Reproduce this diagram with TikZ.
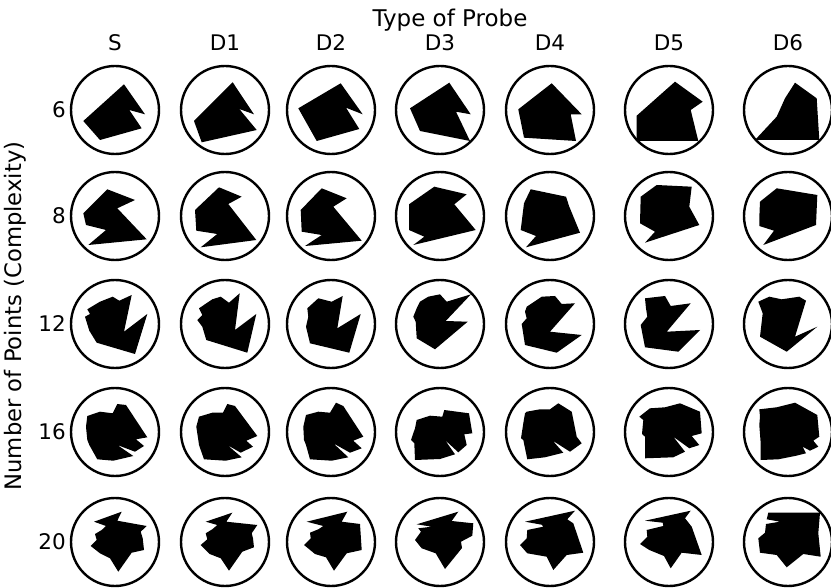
\documentclass[tikz,border=0pt]{standalone}
\usepackage{fontspec}
\setmainfont{DejaVu Sans}
\usepackage{tikz}
\usetikzlibrary{positioning}

\begin{document}
\begin{tikzpicture}[
  x=1pt,y=-1pt,
  probe/.style={circle,draw=black,line width=2.4pt,minimum size=88pt,inner sep=0pt},
  blob/.style={fill=black},
  hdr/.style={font=\fontsize{21.5}{25}\selectfont,inner sep=0pt},
  rowlab/.style={font=\fontsize{21.5}{25}\selectfont,inner sep=0pt,anchor=east}
]
  \useasboundingbox (0,0) rectangle (831,588);
  \node[hdr,font=\fontsize{23}{27}\selectfont] (title) at (450,20) {Type of Probe};
  \node[hdr,font=\fontsize{22.7}{27}\selectfont,rotate=90] (ylab) at (15,316) {Number of Points (Complexity)};
  % columns and rows of probe circles
  \foreach \col/\cx in {S/115,D1/225,D2/331,D3/440,D4/550,D5/669,D6/788}{
    \node[hdr] (h-\col) at (\cx,43) {\col};
    \foreach \row/\cy in {6/110,8/216,12/324,16/432,20/542}{
      \node[probe] (c-\col-\row) at (\cx,\cy) {};
    }
  }
  \foreach \row/\cy in {6/110,8/216,12/324,16/432,20/542}{
    \node[rowlab] (r-\row) at (66,\cy) {\row};
  }

  % 6 points
  \fill[blob,shift={(c-S-6)}] (9,-25.7) -- (30,4.3) -- (14.3,0) -- (26.7,18.3) -- (-15,30) -- (-31.7,11) -- cycle;
  \fill[blob,shift={(c-D1-6)}] (7.7,-27.7) -- (29,4.3) -- (14.3,-1) -- (31.7,20) -- (-23.3,32.3) -- (-31,11) -- cycle;
  \fill[blob,shift={(c-D2-6)}] (9.7,-26.7) -- (31.7,4.3) -- (15,-2.3) -- (28.3,19) -- (-14.3,31) -- (-32.7,-1.7) -- cycle;
  \fill[blob,shift={(c-D3-6)}] (9.3,-27.3) -- (30.7,4.3) -- (16,1.7) -- (30,31) -- (-20,21) -- (-30,-1.7) -- cycle;
  \fill[blob,shift={(c-D4-6)}] (1.7,-26.7) -- (31.7,4.3) -- (20.7,4.3) -- (26,31) -- (-26,27.7) -- (-31.7,-0.7) -- cycle;
  \fill[blob,shift={(c-D5-6)}] (6,-28.3) -- (33.7,-8.3) -- (21.7,0) -- (29.3,31) -- (-32.3,31) -- (-32.3,5.7) -- cycle;
  \fill[blob,shift={(c-D6-6)}] (7,-27.3) -- (28.7,-11.7) -- (31.3,30) -- (-33,30) -- (-11.3,6.7) -- (-3,-11.7) -- cycle;

  % 8 points
  \fill[blob,shift={(c-S-8)}] (-7.7,-26.7) -- (20,-16) -- (2.3,-7.7) -- (31.7,23.3) -- (-26.7,29) -- (-9,14) -- (-29,9) -- (-31.7,-2.7) -- cycle;
  \fill[blob,shift={(c-D1-8)}] (-6,-28.7) -- (16.7,-19.3) -- (3.3,-12) -- (31.3,24) -- (-24.3,31.3) -- (-7.7,18) -- (-28.7,14.7) -- (-30,-6) -- cycle;
  \fill[blob,shift={(c-D2-8)}] (-9.3,-27.7) -- (15.7,-17.7) -- (2.3,-9.3) -- (30.7,24.7) -- (-26,30) -- (-9.3,19) -- (-29.3,15.7) -- (-30.3,-6) -- cycle;
  \fill[blob,shift={(c-D3-8)}] (-5.7,-29.3) -- (26.7,-21.7) -- (14.3,-11.7) -- (35.7,14) -- (-26.7,29) -- (-15.7,20.7) -- (-31,14) -- (-31,-11.7) -- cycle;
  \fill[blob,shift={(c-D4-8)}] (-19.3,-26.7) -- (16,-19.3) -- (19.3,-9.3) -- (30,16.7) -- (-24,31.3) -- (-14,20) -- (-29.3,14) -- (-26,-12.7) -- cycle;
  \fill[blob,shift={(c-D5-8)}] (-12.3,-31) -- (22.7,-29.3) -- (20.3,-9.3) -- (30.3,9) -- (-24,26.7) -- (-14,15.7) -- (-29,7.3) -- (-28.3,-19.3) -- cycle;
  \fill[blob,shift={(c-D6-8)}] (-11.3,-27.7) -- (29.3,-21) -- (28,9) -- (-24.7,29) -- (-14,14.7) -- (-28.7,10) -- (-28.5,-3) -- (-28,-14.3) -- cycle;

  % 12 points
  \fill[blob,shift={(c-S-12)}] (-27.7,-14.7) -- (-15,-22.3) -- (-2.3,-27.3) -- (4.3,-23.3) -- (16.7,-29) -- (9,7.7) -- (32.3,-10) -- (20,30) -- (-18.3,18.7) -- (-25.7,6.7) -- (-30,-7.3) -- (-25,-10) -- cycle;
  \fill[blob,shift={(c-D1-12)}] (-26,-15.7) -- (-12.7,-24.7) -- (-4.3,-27.3) -- (4,-21.3) -- (14.7,-30.7) -- (10,6) -- (31.3,-10) -- (22.3,28.7) -- (-18.7,16) -- (-22.7,2.7) -- (-27.7,-4) -- (-22.7,-9) -- cycle;
  \fill[blob,shift={(c-D2-12)}] (-23.7,-15.7) -- (-12.7,-25.7) -- (0.7,-22.3) -- (11.7,-28) -- (6.3,4.3) -- (29.7,-10) -- (18.3,28.7) -- (-21,19.3) -- (-25,2.7) -- (-22.7,-7.3) -- cycle;
  \fill[blob,shift={(c-D3-12)}] (-20,-22.3) -- (-11.7,-27.3) -- (0,-29.7) -- (6.7,-22.3) -- (31,-29.7) -- (5.7,-3) -- (27.7,-2.3) -- (-5,25.3) -- (-23.3,14.3) -- (-24.3,-2.3) -- (-26.7,-7.3) -- (-23.3,-15.7) -- cycle;
  \fill[blob,shift={(c-D4-12)}] (-23.3,-17.3) -- (-8.3,-27.3) -- (5,-28) -- (11.7,-20) -- (25,-20.7) -- (0,7.7) -- (31.7,11) -- (6.7,28.7) -- (-25,21) -- (-28.3,0) -- (-23.3,-5.7) -- (-25,-12.3) -- cycle;
  \fill[blob,shift={(c-D5-12)}] (-24,-25.7) -- (-4,-28) -- (1.7,-18) -- (21.7,-20.7) -- (-2.3,7.7) -- (31,6) -- (9.3,27.7) -- (-24,23.3) -- (-28.3,1) -- (-21.7,-7.3) -- (-23,-15.7) -- cycle;
  \fill[blob,shift={(c-D6-12)}] (-29.7,-22.3) -- (-18.7,-27.3) -- (-6.3,-24.7) -- (11.3,-27.3) -- (18,-23.3) -- (7,12.7) -- (29.3,2.7) -- (-1.3,27.7) -- (-28,12.7) -- (-25.3,-10.7) -- cycle;

  % 16 points
  \fill[blob,shift={(c-S-16)}] (-27.7,-16) -- (-15,-20.3) -- (-2.3,-18.7) -- (2.3,-28) -- (11,-27) -- (32.3,5.3) -- (21,7.3) -- (29,14) -- (20,19.7) -- (2.3,13) -- (18.3,24) -- (-1.7,28.7) -- (-17.7,27.3) -- (-25.7,13) -- (-27.7,8) -- (-29,-5.3) -- cycle;
  \fill[blob,shift={(c-D1-16)}] (-26,-15.3) -- (-12.7,-19.3) -- (-2,-19.3) -- (2.3,-28) -- (10,-26) -- (32.3,4) -- (21.3,8.7) -- (28,14.7) -- (15.7,20.7) -- (2.3,13) -- (16.7,25.3) -- (0.7,28.7) -- (-21,27.3) -- (-26,13) -- (-26.7,8) -- (-28.7,-5.3) -- cycle;
  \fill[blob,shift={(c-D2-16)}] (-25,-17) -- (-12.7,-20.3) -- (-1,-19.3) -- (5,-29.3) -- (12.3,-26) -- (32.3,4.7) -- (22.3,8.7) -- (30.7,16.3) -- (19,20.7) -- (2.3,11.3) -- (17.3,25.3) -- (0.7,28.7) -- (-21,27.3) -- (-25,13) -- (-27,8) -- (-27.7,-5.3) -- cycle;
  \fill[blob,shift={(c-D3-16)}] (-23.3,-12) -- (-10,-16.3) -- (2.3,-15.3) -- (4.3,-22) -- (29,-18.7) -- (32.3,1.3) -- (24.3,2.3) -- (26.7,13) -- (18.3,20.3) -- (5,8) -- (15,22.3) -- (0,27) -- (-25,28) -- (-25.7,11.3) -- (-29,8) -- (-25,-3.7) -- cycle;
  \fill[blob,shift={(c-D4-16)}] (-23.3,-20.3) -- (-10,-22.7) -- (0,-22.7) -- (8.3,-28.7) -- (21.7,-20.3) -- (26.7,4.7) -- (31.7,11.3) -- (20,19.7) -- (2.7,8.7) -- (13.3,20.7) -- (-5,25.3) -- (-22.7,27.3) -- (-26.7,8) -- (-29,6.3) -- (-26.7,-8.7) -- (-25,-18.7) -- cycle;
  \fill[blob,shift={(c-D5-16)}] (-29.7,-15.3) -- (-19,-23.7) -- (-4,-24.7) -- (11,-28.7) -- (31,-20.3) -- (32.7,1.3) -- (22.7,4) -- (30.3,13) -- (20.3,16.3) -- (4.3,4.7) -- (16,19.7) -- (4.3,25.3) -- (-24,26.3) -- (-24,4.7) -- (-27,2) -- (-25.7,-12) -- cycle;
  \fill[blob,shift={(c-D6-16)}] (-28.7,-22.7) -- (-11.3,-24.7) -- (7,-29.3) -- (29.3,-17) -- (31.3,4.7) -- (25.3,8.7) -- (30.3,14.7) -- (22,18.7) -- (14.7,14.7) -- (18,21.3) -- (7,24) -- (-9.7,27.3) -- (-27.3,28) -- (-27.3,11.3) -- (-28.7,-7) -- (-28,-15.3) -- cycle;

  % 20 points
  \fill[blob,shift={(c-S-20)}] (-21,-20.3) -- (6.7,-30.3) -- (2.3,-21.3) -- (31.7,-16) -- (25.7,-10.3) -- (27.7,-3.7) -- (29,8) -- (16.7,10.7) -- (3.3,29.7) -- (-5,16.3) -- (-15,11.3) -- (-24.3,4) -- (-18.3,-2) -- (-20,-8) -- (-13.3,-12) -- (-9,-16) -- cycle;
  \fill[blob,shift={(c-D1-20)}] (-19.3,-20.3) -- (7.3,-29.3) -- (1.3,-20.3) -- (32.3,-17) -- (26.7,-8.7) -- (28,-3.7) -- (29,5.3) -- (17.3,9.7) -- (4,28.7) -- (-4.3,16.3) -- (-15.3,12) -- (-24.3,3) -- (-17.7,-2.7) -- (-19.3,-8.7) -- (-12.7,-12.7) -- (-7.7,-17) -- cycle;
  \fill[blob,shift={(c-D2-20)}] (-24.3,-20.3) -- (16.3,-30.3) -- (10.7,-20.3) -- (29,-18) -- (30.7,8) -- (15.7,11.3) -- (3,28.7) -- (-5,15.3) -- (-16,12) -- (-27,3) -- (-20.3,-3.7) -- (-21,-9.3) -- (-12.7,-12.7) -- (-7.7,-16) -- cycle;
  \fill[blob,shift={(c-D3-20)}] (-23.3,-17.7) -- (18.3,-30.3) -- (11.7,-21) -- (33.3,-18.7) -- (32.3,-6.3) -- (21,-0.3) -- (22,6) -- (5,27) -- (-4.3,11.3) -- (-18.3,6.3) -- (-25,-2) -- (-19,-10.3) -- (-21.7,-13.7) -- (-8.3,-15.3) -- cycle;
  \fill[blob,shift={(c-D4-20)}] (-25,-20.3) -- (25,-31.3) -- (17.3,-22.7) -- (23.3,-18.7) -- (33.3,10.7) -- (16.7,13) -- (3.3,28) -- (-3.3,14.7) -- (-22.7,11.3) -- (-30,3) -- (-23.3,-3.7) -- (-22.7,-12) -- (-6.7,-15.3) -- (-8.3,-17.3) -- cycle;
  \fill[blob,shift={(c-D5-20)}] (-24,-21.3) -- (21.7,-31.3) -- (16,-23.7) -- (22.7,-15.3) -- (32.7,13) -- (12.7,10.7) -- (1.7,26.3) -- (-5,14) -- (-19.7,8) -- (-29,2) -- (-21.7,-5.3) -- (-22.3,-12) -- (-5.7,-16) -- (-6.3,-19.3) -- cycle;
  \fill[blob,shift={(c-D6-20)}] (-19.7,-29.3) -- (32,-29.3) -- (30.3,-8.7) -- (32.7,14.7) -- (15.3,12) -- (-1.3,25.3) -- (-11.3,13) -- (-28,10.7) -- (-29.7,-3.7) -- (-23,-9.3) -- (-22,-18) -- (-8,-20.3) -- (-21.3,-22.7) -- cycle;
\end{tikzpicture}
\end{document}
